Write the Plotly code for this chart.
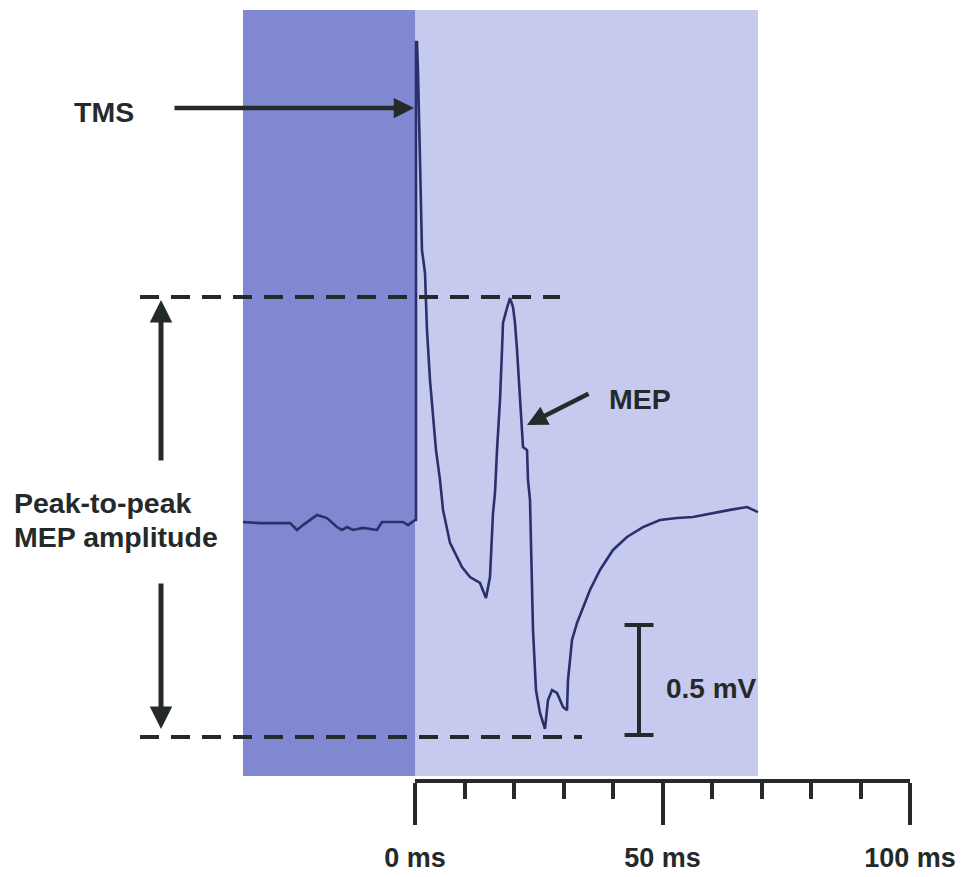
import plotly.graph_objects as go

# ---------------- data (time in ms, amplitude in mV) ----------------
time_ms = [-34.75, -31.31, -25.25, -23.84, -22.63, -19.80, -17.78, -15.76, -14.75,
           -13.74, -12.53, -10.51, -7.68, -6.67, -2.42, -1.41, 0.00,
           0.20, 0.20, 0.40, 0.61, 1.01, 1.41, 2.02, 2.42, 3.03, 3.64, 4.24, 5.05,
           5.66, 7.07, 9.49, 11.11, 13.13, 14.34, 15.15, 15.76, 16.16, 16.57,
           17.17, 17.58, 17.78, 18.59, 19.19, 19.80, 20.20, 20.61, 21.21, 21.62,
           21.82, 22.63, 22.83, 23.23, 23.43, 23.84, 24.44, 25.25, 26.26, 26.87,
           27.68, 28.69, 29.90, 30.71, 30.91, 31.72, 32.73, 33.94, 35.35, 37.37,
           40.00, 42.83, 46.06, 49.49, 52.93, 56.16, 60.20, 63.64, 67.07, 69.29]
emg_mV = [0.000, -0.005, -0.005, -0.036, -0.014, 0.032, 0.018, -0.023, -0.036,
          -0.023, -0.036, -0.027, -0.036, 0.000, 0.000, -0.014, 0.009,
          0.009, 2.182, 2.182, 2.045, 1.555, 1.236, 1.132, 0.873, 0.645, 0.486, 0.327, 0.191,
          0.055, -0.095, -0.205, -0.250, -0.277, -0.345, -0.250, 0.041, 0.132, 0.327,
          0.555, 0.782, 0.905, 0.973, 1.018, 0.977, 0.905, 0.782, 0.541, 0.432,
          0.341, 0.327, 0.191, 0.100, -0.114, -0.491, -0.764, -0.868, -0.940, -0.809,
          -0.764, -0.777, -0.841, -0.855, -0.718, -0.536, -0.459, -0.386, -0.309, -0.218,
          -0.127, -0.068, -0.023, 0.009, 0.018, 0.023, 0.041, 0.055, 0.068, 0.045]

pre_window_ms = [-34.75, 0.0]     # pre-stimulus shaded window
post_window_ms = [0.0, 69.29]     # post-stimulus shaded window
mep_peak_mV = 1.023
mep_trough_mV = -0.977
scale_bar_mV = 0.5
axis_ticks_ms = [0, 50, 100]
axis_tick_labels = ["0 ms", "50 ms", "100 ms"]

# ---------------- figure geometry ----------------
W, H = 978, 877
PX_PER_MS = 4.95
X0_PX = 415
PX_PER_MV = 220
Y0_PX = 522
x_range = [-X0_PX / PX_PER_MS, (W - X0_PX) / PX_PER_MS]
y_range = [(Y0_PX - H) / PX_PER_MV, Y0_PX / PX_PER_MV]

def ms(px):
    return (px - X0_PX) / PX_PER_MS

def mv(py):
    return (Y0_PX - py) / PX_PER_MV

INK = "#242a2a"
TRACE = "#2a306c"
FONT = "Liberation Sans, Arial, sans-serif"

fig = go.Figure()

fig.add_trace(go.Scatter(x=time_ms, y=emg_mV, mode="lines",
                         line=dict(color=TRACE, width=2.6),
                         hoverinfo="skip", showlegend=False))
# invisible trace to activate the time-scale axis
fig.add_trace(go.Scatter(x=axis_ticks_ms, y=[None] * len(axis_ticks_ms), xaxis="x2",
                         mode="markers", hoverinfo="skip", showlegend=False))

shapes = []
rect_top, rect_bot = mv(10), mv(776)
shapes.append(dict(type="rect", xref="x", yref="y", x0=pre_window_ms[0], x1=pre_window_ms[1],
                   y0=rect_bot, y1=rect_top, fillcolor="#8088d2", line_width=0, layer="below"))
shapes.append(dict(type="rect", xref="x", yref="y", x0=post_window_ms[0], x1=post_window_ms[1],
                   y0=rect_bot, y1=rect_top, fillcolor="#c7caef", line_width=0, layer="below"))
# dashed peak / trough levels
shapes.append(dict(type="line", xref="x", yref="y", x0=ms(140), x1=ms(560),
                   y0=mep_peak_mV, y1=mep_peak_mV,
                   line=dict(color=INK, width=4, dash="19px,12px")))
shapes.append(dict(type="line", xref="x", yref="y", x0=ms(140), x1=ms(582),
                   y0=mep_trough_mV, y1=mep_trough_mV,
                   line=dict(color=INK, width=4, dash="19px,12px")))
# 0.5 mV scale bar
sb_x = ms(639)
sb_y0 = mv(735)
sb_y1 = sb_y0 + scale_bar_mV
cap = 14.5 / PX_PER_MS
shapes.append(dict(type="line", xref="x", yref="y", x0=sb_x, x1=sb_x, y0=sb_y0, y1=sb_y1,
                   line=dict(color=INK, width=4)))
for yy in (sb_y0, sb_y1):
    shapes.append(dict(type="line", xref="x", yref="y", x0=sb_x - cap, x1=sb_x + cap,
                       y0=yy, y1=yy, line=dict(color=INK, width=4)))

annotations = []
def arrow(x_tail, y_tail, x_tip, y_tip, width):
    annotations.append(dict(x=x_tip, y=y_tip, ax=x_tail, ay=y_tail, xref="x", yref="y",
                            axref="x", ayref="y", text="", showarrow=True,
                            arrowhead=2, arrowsize=0.9, arrowwidth=width,
                            arrowcolor=INK, standoff=0, startstandoff=0))

arrow(ms(173), mv(108), ms(414), mv(108), 4.5)          # TMS arrow
arrow(ms(590), mv(393), ms(527), mv(425), 4.5)          # MEP arrow
arrow(ms(161), mv(462), ms(161), mv(300), 5)            # amplitude up
arrow(ms(161), mv(582), ms(161), mv(729), 5)            # amplitude down

def label(text, x, y, size, xanchor="center"):
    annotations.append(dict(x=x, y=y, xref="x", yref="y", text=text, showarrow=False,
                            xanchor=xanchor, yanchor="middle",
                            font=dict(family=FONT, size=size, color=INK, weight="bold")))

label("TMS", ms(103.5), mv(112), 28.5)
label("MEP", ms(639.5), mv(399), 28.5)
label("Peak-to-peak", ms(12), mv(503), 28.5, "left")
label("MEP amplitude", ms(12), mv(537), 28.5, "left")
label("0.5 mV", ms(664), mv(688), 28, "left")

fig.update_layout(
    template="none",
    width=W, height=H, margin=dict(l=0, r=0, t=0, b=0, pad=0, autoexpand=False),
    paper_bgcolor="white", plot_bgcolor="rgba(0,0,0,0)",
    shapes=shapes, annotations=annotations, showlegend=False,
    xaxis=dict(range=x_range, visible=False, fixedrange=True, automargin=False),
    yaxis=dict(range=y_range, visible=False, fixedrange=True, automargin=False),
    xaxis2=dict(domain=[X0_PX / W, (X0_PX + 100 * PX_PER_MS) / W], range=[0, 100],
                anchor="free", position=1 - 781 / H, side="bottom", automargin=False,
                showline=True, linewidth=4, linecolor=INK,
                ticks="outside", ticklen=42, tickwidth=4, tickcolor=INK,
                tickvals=axis_ticks_ms, ticktext=axis_tick_labels,
                minor=dict(dtick=10, ticks="outside", ticklen=16, tickwidth=4, tickcolor=INK,
                           showgrid=False),
                showgrid=False, zeroline=False, fixedrange=True,
                ticklabelstandoff=10,
                tickfont=dict(family=FONT, size=27, color=INK, weight="bold")),
)

fig.write_html("out.html")
